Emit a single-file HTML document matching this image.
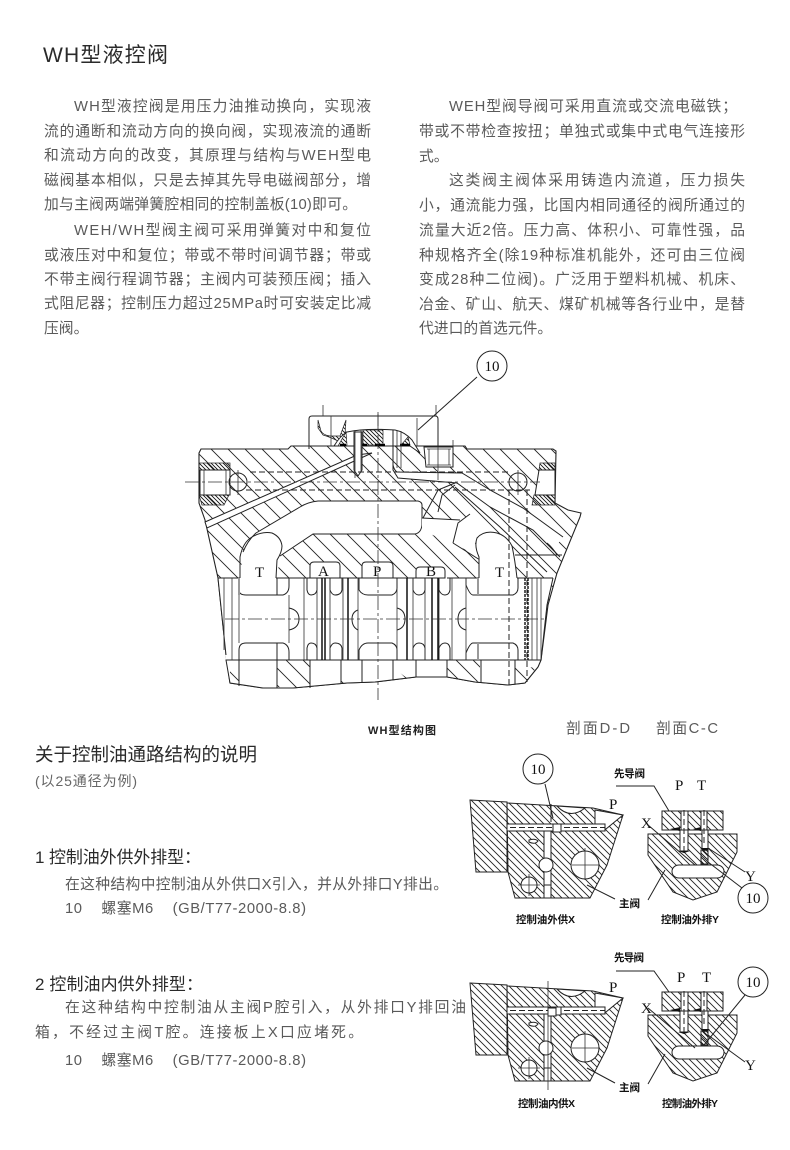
<!DOCTYPE html>
<html lang="zh"><head><meta charset="utf-8"><title>WH型液控阀</title>
<style>
html,body{margin:0;padding:0;background:#fff}
svg{display:block}
text{font-family:"Liberation Sans","Noto Sans CJK SC",sans-serif}
.b{font-size:14.8px;fill:#5a5a5a}
.h{fill:#2a2a2a}
.l{fill:#111;font-size:10.5px}
text.s{font-family:"Liberation Serif",serif;fill:#111;font-size:15px}
.k{fill:none;stroke:#222;stroke-width:1}
.w{fill:#fff;stroke:#222;stroke-width:1}
.t{fill:none;stroke:#333;stroke-width:.8}
.g{fill:none;stroke:#999;stroke-width:2}
.f{fill:none;stroke:#111;stroke-width:1.5}
.d{fill:none;stroke:#222;stroke-width:1;stroke-dasharray:6 3}
.c{fill:none;stroke:#333;stroke-width:.8;stroke-dasharray:14 3 3 3}
</style></head><body>
<svg width="790" height="1150" viewBox="0 0 790 1150" xmlns="http://www.w3.org/2000/svg">
<defs>
<pattern id="h1" width="17" height="17" patternUnits="userSpaceOnUse"><path d="M-1 -1L18 18M-1 16L1 18M16 -1L18 1" stroke="#222" stroke-width=".9"/></pattern>
<pattern id="h2" width="7" height="7" patternUnits="userSpaceOnUse"><path d="M-1 -1L8 8M-1 6L1 8M6 -1L8 1" stroke="#222" stroke-width=".9"/></pattern>
<pattern id="h3" width="4" height="4" patternUnits="userSpaceOnUse"><path d="M-1 -1L5 5M-1 3L1 5M3 -1L5 1" stroke="#111" stroke-width=".9"/></pattern>
<g id="lefta">
<path d="M470 800L507 802L507 872L476 872Z" fill="url(#h2)" stroke="#222"/>
<path d="M507 803L593 808L623 815L607 865L590 898L515 898L508 872Z" fill="url(#h2)" stroke="#222"/>
<path d="M595 810L623 815L606 829L595 829Z" class="w"/>
<path d="M557 806Q570 820 585 808Z" class="w"/>
<path d="M507 824H605V831H507Z" class="w"/>
<path d="M510 827.5H605" class="d" stroke-width=".7"/>
<rect x="544" y="831" width="7" height="60" class="w"/>
<rect x="553" y="824" width="8" height="8" class="w"/>
<rect x="544" y="885" width="7" height="13" class="w"/>
<circle cx="585" cy="865" r="14" class="w"/>
<circle cx="529" cy="885" r="8" class="w"/>
<circle cx="546" cy="865" r="7" class="w"/>
<path d="M529 874V896M518 885H540M585 848V880M572 865H600" class="t"/>
<path d="M529 840Q535 838 538 841Q535 845 529 842Z" class="w"/>
</g>
<g id="righta">
<rect x="662" y="811" width="61" height="19" fill="url(#h2)" stroke="#222"/>
<path d="M648 834L737 834L737 852L717 892L693 900L673 892L648 855Z" fill="url(#h2)" stroke="#222"/>
<rect x="681" y="811" width="7" height="19" class="w"/>
<rect x="701" y="811" width="6" height="19" class="w"/>
<rect x="680" y="830" width="8" height="21" class="w"/>
<rect x="702" y="830" width="6" height="20" class="w"/>
<rect x="701" y="850" width="7" height="14" fill="url(#h3)" stroke="#222"/>
<rect x="672" y="865" width="52" height="13" rx="7" class="w"/>
<path d="M684 810V851M704 810V845" class="d"/>
<path d="M678 851H690L684 853Z M700 848H710L705 851Z M670 829L680 827V831Z M693 829L701 827V831Z" fill="#111"/>
</g>
</defs>
<rect width="790" height="1150" fill="#fff"/>

<text x="43" y="62" font-size="21" class="h" textLength="125">WH型液控阀</text>

<g class="b">
<text x="74" y="111" textLength="297">WH型液控阀是用压力油推动换向，实现液</text>
<text x="44" y="136" textLength="327">流的通断和流动方向的换向阀，实现液流的通断</text>
<text x="44" y="160" textLength="327">和流动方向的改变，其原理与结构与WEH型电</text>
<text x="44" y="185" textLength="327">磁阀基本相似，只是去掉其先导电磁阀部分，增</text>
<text x="44" y="209" textLength="313">加与主阀两端弹簧腔相同的控制盖板(10)即可。</text>
<text x="74" y="235" textLength="297">WEH/WH型阀主阀可采用弹簧对中和复位</text>
<text x="44" y="260" textLength="327">或液压对中和复位；带或不带时间调节器；带或</text>
<text x="44" y="284" textLength="327">不带主阀行程调节器；主阀内可装预压阀；插入</text>
<text x="44" y="308" textLength="327">式阻尼器；控制压力超过25MPa时可安装定比减</text>
<text x="44" y="333">压阀。</text>

<text x="449" y="111" textLength="288">WEH型阀导阀可采用直流或交流电磁铁；</text>
<text x="419" y="136" textLength="326">带或不带检查按扭；单独式或集中式电气连接形</text>
<text x="419" y="161">式。</text>
<text x="449" y="185" textLength="296">这类阀主阀体采用铸造内流道，压力损失</text>
<text x="419" y="210" textLength="326">小，通流能力强，比国内相同通径的阀所通过的</text>
<text x="419" y="235" textLength="326">流量大近2倍。压力高、体积小、可靠性强，品</text>
<text x="419" y="260" textLength="326">种规格齐全(除19种标准机能外，还可由三位阀</text>
<text x="419" y="284" textLength="326">变成28种二位阀)。广泛用于塑料机械、机床、</text>
<text x="419" y="309" textLength="326">冶金、矿山、航天、煤矿机械等各行业中，是替</text>
<text x="419" y="333">代进口的首选元件。</text>
</g>

<!-- main section drawing: body -->
<path d="M199 453L201 449L288 449L291 446L465 446L467 449L553 449L556 451L555 503L568 510L581 513L580 517L557 573L548 605L541 660L538 667L525 683L508 685L475 682L447 677L416 677L375 682L347 683L293 688L263 688L230 683L226 655L218 578L205 520L199 503Z" fill="url(#h1)" stroke="#222" stroke-width="1.1"/>
<!-- cover -->
<path d="M309 449V419Q309 416 312 416H435Q438 416 438 419V446H309" class="w"/>
<path d="M323 405V416M436 405V416M331 416V446M417 418V446M378 414V446" class="t"/>
<path d="M318 420L321 431Q323 435 330 436H340L346 420L345 435L338 441Q330 437 323 435L318 428Z" fill="url(#h3)" stroke="#222" stroke-width=".7"/>
<path d="M334 446Q340 436 347 432Q365 428 395 430Q405 432 412 440L420 453L410 446Z" class="w"/>
<rect x="363" y="430" width="20" height="15" fill="url(#h3)" stroke="#222" stroke-width=".7"/>
<path d="M338 446L346 432L347 445Z M402 444L408 437L410 445Z" fill="url(#h3)" stroke="#222" stroke-width=".7"/>
<path d="M340 445H346M360 445H367M375 445H385M400 445H410" stroke="#000" stroke-width="2.5"/>
<!-- diagonal pipe -->
<path d="M205 522L357 455L372 453L207 528Z" class="w"/>
<!-- pins -->
<path d="M354 432V470L358 476L362 470V432Z" class="w"/>
<path d="M355 430V478M361 430V472" class="t"/>
<path d="M393 430V465Q394 470 397 472L462 473L490 490L523 508L563 537L553 550L533 530L490 507L457 483L398 478L393 470Z" fill="#fff"/>
<path d="M393 430V470L398 478L457 483L490 507L533 530L553 550L560 557M393 465Q394 470 397 472L462 473L490 490L523 508L563 537" class="k"/>
<path d="M397 431V468M401 431V468" class="t"/>
<!-- upper white band -->
<path d="M243 552Q248 540 256 533L300 507Q308 502 318 501L418 501Q422 502 422 505L422 525Q421 533 415 534L313 534L280 556L277 578L240 578Z" fill="#fff"/>
<path d="M243 552Q248 540 256 533L300 507Q308 502 318 501L418 501Q422 502 422 505L422 525Q421 533 415 534L313 534L280 556" class="k"/>
<path d="M240 578V557Q243 542 252 537Q262 531 272 533Q281 537 282 546Q282 552 277 560L276 578" class="k"/>
<!-- right passages -->
<path d="M422 518L460 520L453 543L430 534L422 534Z" fill="#fff"/>
<path d="M458 523L470 514L485 532L475 543L479 557L453 543Z" fill="#fff"/>
<path d="M423 518L438 490L455 483M438 512L442 495L455 485M422 518L460 520M453 543L458 523L470 514M455 487L500 527L547 572M453 543L480 560M515 555H562M547 543Q553 548 557 555" class="k"/>
<path d="M479 578V557Q474 546 477 538Q484 530 497 533Q507 536 512 546Q515 560 517 578H479Z" fill="#fff"/>
<path d="M479 578V557Q474 546 477 538Q484 530 497 533Q507 536 512 546Q515 560 517 578" class="k"/>
<!-- bore -->
<path d="M218 578H553L547 605L541 660H226Z" fill="#fff"/>
<path d="M218 578L226 655M553 578L547 605L541 660" class="k"/>
<path d="M218 578H240M276 578H310M340 578H362M393 578H416M447 578H479M517 578H553M226 660H541" class="k"/>
<!-- chamber notches in block -->
<path d="M310 578V566Q310 562 314 562H336Q340 562 340 566V578Z M362 578V566Q362 562 366 562H389Q393 562 393 566V578Z M416 578V571Q416 567 420 567H441Q445 567 445 571V578Z" class="w"/>
<!-- bottom area -->
<path d="M226 660H541L538 667L525 683L508 685L475 682L447 677L416 677L375 682L347 683L293 688L263 688L230 683Z" class="w"/>
<path d="M277 660H310V688H293L277 687Z M341 668L355 682L347 683H341Z M393 668L407 678L393 680Z M447 660H480V682L447 677Z M515 665L536 668L525 683L515 684Z M230 668L239 678V685L230 683Z" fill="url(#h1)" stroke="none"/>
<path d="M239 660V686M277 660V688M310 660V688M341 660V683M362 660V682M393 660V680M416 660V677M447 660V677M481 660V683M515 660V684" class="k"/>
<!-- spool: top chamber outlines -->
<g class="k">
<path d="M239 578V590Q239 595 246 595H283Q289 593 289 586V578M277 578V595"/>
<path d="M307 578V590Q308 595 311 595Q316 595 317 590V578"/>
<path d="M330 578V590Q332 595 335 595Q341 595 342 590V578"/>
<path d="M359 578V590Q362 595 368 595H392Q397 593 397 588V578"/>
<path d="M413 578V590Q415 595 419 595Q424 595 425 590V578"/>
<path d="M439 578V590Q441 595 445 595Q449 595 450 590V578"/>
<path d="M466 578V585Q470 595 473 595H513Q518 593 518 588V578"/>
<path d="M239 660V650Q239 643 246 643H283Q289 645 289 652V660M277 643V660"/>
<path d="M307 660V648Q308 643 311 643Q316 643 317 648V660"/>
<path d="M330 660V648Q332 643 335 643Q341 643 342 648V660"/>
<path d="M359 660V650Q362 643 368 643H392Q397 645 397 650V660"/>
<path d="M413 660V648Q415 643 419 643Q424 643 425 648V660"/>
<path d="M439 660V648Q441 643 445 643Q449 643 450 648V660"/>
<path d="M466 660V653Q470 643 473 643H513Q518 645 518 650V660"/>
<path d="M289 608Q299 610 299 619Q299 628 289 630M358 610Q352 612 352 619Q352 627 358 630M397 608Q405 610 405 619Q405 628 397 630M466 608Q458 610 458 619Q458 628 466 630"/>
</g>
<path d="M224 578V650M232 578V660M239 595V643" class="t"/>
<path d="M289 595V643M304 578V660M317 578V660M330 578V660M343 578V660M358 578V660M397 588V650M413 578V660M425 578V660M439 578V660M452 578V660M466 578V660M532 578V660M537 578V660M541 578V660" class="t"/>
<path d="M322 578V660M325 578V660M348 578V660M407 578V660M432 578V660M438 578V660" class="f"/>
<path d="M525 578V660M528 578V660" stroke="#111" stroke-width="1.4" stroke-dasharray="3 1"/>
<path d="M478 578V595M478 643V660M239 578V595" class="g"/>
<!-- plugs -->
<rect x="199" y="463" width="31" height="7" fill="url(#h3)" stroke="#222" stroke-width=".7"/>
<rect x="200" y="470" width="30" height="25" class="w"/>
<path d="M204 470V495M226 470V495" class="t"/>
<path d="M199 495H229L224 505H202Z" fill="url(#h3)" stroke="#222" stroke-width=".7"/>
<path d="M540 463H555V470H539Z" fill="url(#h3)" stroke="#222" stroke-width=".7"/>
<path d="M539 470H555V495H535Z" class="w"/>
<path d="M534 495H555V505H532Z" fill="url(#h3)" stroke="#222" stroke-width=".7"/>
<!-- bolt -->
<path d="M424 447H453V467H426Z" class="w"/>
<path d="M427 449H451M427 465H451M429 449V465M449 449V465" class="t"/>
<path d="M438 447V480M453 440V447" class="t"/>
<!-- centre lines -->
<path d="M185 482H540" class="c"/>
<path d="M378 412V700" class="c"/>
<path d="M225 619H545" class="c"/>
<path d="M250 472H510M246 490H530" class="d"/>
<path d="M509 490V685M527 490V682" class="d"/>
<circle cx="238" cy="482" r="9" class="k"/><path d="M238 470V495" class="t"/>
<circle cx="518" cy="482" r="9" class="k"/><path d="M518 470V495" class="t"/>
<!-- port labels -->
<text x="255" y="577" class="s">T</text>
<text x="495" y="577" class="s">T</text>
<text x="318" y="576" class="s">A</text><text x="373" y="576" class="s">P</text><text x="426" y="576" class="s">B</text>
<circle cx="492" cy="366" r="15" class="w"/>
<text x="492" y="371" class="s" text-anchor="middle">10</text>
<path d="M477 377L418 430" class="k"/>

<text x="368" y="734" font-size="11" fill="#222" font-weight="bold" textLength="68">WH型结构图</text>
<text x="566" y="733" class="b" textLength="64">剖面D-D</text>
<text x="656" y="733" class="b" textLength="62">剖面C-C</text>

<text x="35" y="761" font-size="18.5" class="h" textLength="222">关于控制油通路结构的说明</text>
<text x="35" y="786" font-size="14" fill="#666" textLength="102">(以25通径为例)</text>

<text x="35" y="863" font-size="17" class="h" textLength="166">1 控制油外供外排型：</text>
<text x="65" y="889" class="b" textLength="383">在这种结构中控制油从外供口X引入，并从外排口Y排出。</text>
<text x="65" y="913" class="b" xml:space="preserve" textLength="241">10    螺塞M6    (GB/T77-2000-8.8)</text>

<text x="35" y="990" font-size="17" class="h" textLength="168">2 控制油内供外排型：</text>
<text x="65" y="1012" class="b" textLength="401">在这种结构中控制油从主阀P腔引入，从外排口Y排回油</text>
<text x="35" y="1037" class="b" textLength="328">箱，不经过主阀T腔。连接板上X口应堵死。</text>
<text x="65" y="1065" class="b" xml:space="preserve" textLength="241">10    螺塞M6    (GB/T77-2000-8.8)</text>

<!-- small diagram 1 -->
<use href="#lefta"/><use href="#righta"/>
<circle cx="538" cy="769" r="15" class="w"/><text x="538" y="774" class="s" text-anchor="middle">10</text>
<path d="M545 784L553 818M551 804V822" class="k"/>
<text x="609" y="809" class="s">P</text>
<text x="675" y="790" class="s">P</text><text x="697" y="790" class="s">T</text>
<text x="641" y="828" class="s">X</text>
<text x="745" y="881" class="s">Y</text>
<text x="614" y="777" class="l" font-weight="bold" textLength="31">先导阀</text>
<path d="M616 786H654L669 811" class="k"/>
<path d="M648 825L695 865M708 848L745 872" class="k"/>
<circle cx="753" cy="898" r="15" class="w"/><text x="753" y="903" class="s" text-anchor="middle">10</text>
<path d="M708 862L742 888" class="k"/>
<text x="619" y="907" class="l" font-weight="bold" textLength="21">主阀</text>
<path d="M615 899L587 885M648 900L665 870" class="k"/>
<text x="516" y="923" class="l" font-weight="bold" textLength="59">控制油外供X</text>
<text x="661" y="923" class="l" font-weight="bold" textLength="58">控制油外排Y</text>

<!-- small diagram 2 -->
<g transform="translate(0 183)"><use href="#lefta"/></g>
<path d="M548 1008H556V1016H548Z" class="w"/>
<g transform="translate(0 181)"><use href="#righta"/></g>
<path d="M548 981V1090" class="t"/>
<text x="609" y="992" class="s">P</text>
<text x="677" y="982" class="s">P</text><text x="702" y="982" class="s">T</text>
<text x="641" y="1013" class="s">X</text>
<text x="745" y="1070" class="s">Y</text>
<text x="614" y="961" class="l" font-weight="bold" textLength="30">先导阀</text>
<path d="M616 971H654L669 992" class="k"/>
<path d="M648 1008L695 1048M708 1035L745 1062" class="k"/>
<circle cx="753" cy="982" r="15" class="w"/><text x="753" y="987" class="s" text-anchor="middle">10</text>
<path d="M745 995L704 1045" class="k"/>
<text x="619" y="1091" class="l" font-weight="bold" textLength="21">主阀</text>
<path d="M615 1083L587 1068M648 1084L665 1054" class="k"/>
<text x="518" y="1107" class="l" font-weight="bold" textLength="57">控制油内供X</text>
<text x="662" y="1107" class="l" font-weight="bold" textLength="56">控制油外排Y</text>
</svg>
</body></html>
